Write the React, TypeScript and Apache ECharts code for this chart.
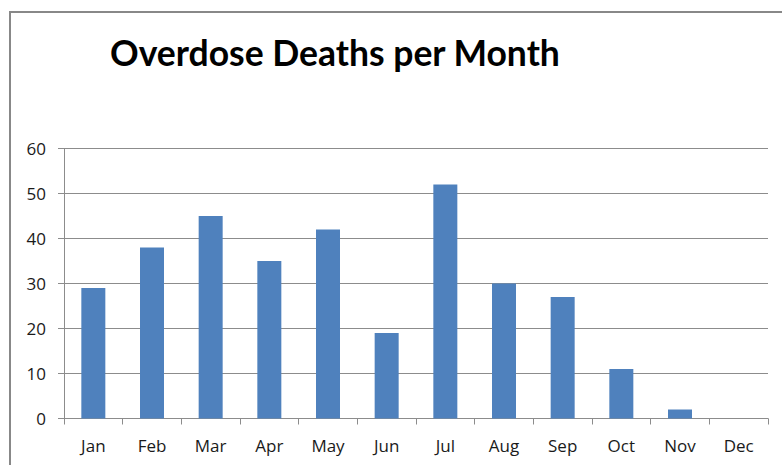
import React, { useEffect, useRef } from "react";
import * as echarts from "echarts";

const categories = ["Jan", "Feb", "Mar", "Apr", "May", "Jun", "Jul", "Aug", "Sep", "Oct", "Nov", "Dec"];
const deaths = [29, 38, 45, 35, 42, 19, 52, 30, 27, 11, 2, 0];
const titleText = "Overdose Deaths per Month";

export default function App() {
  const ref = useRef<HTMLDivElement>(null);
  useEffect(() => {
    document.body.style.margin = "0";
    const chart = echarts.init(ref.current!, null, { renderer: "svg" });
    const font = "'Open Sans', Lato, sans-serif";
    chart.setOption({
      animation: false,
      backgroundColor: "#ffffff",
      title: {
        text: titleText,
        left: 105,
        top: 29,
        textStyle: { fontFamily: "Lato, sans-serif", fontSize: 35.5, fontWeight: "bold", color: "#000000" },
      },
      graphic: [
        {
          type: "rect",
          shape: { x: 10, y: 12, width: 820, height: 520 },
          style: { fill: "none", stroke: "#888888", lineWidth: 2 },
          silent: true,
        },
      ],
      grid: { left: 64, right: 14, top: 148.5, bottom: 46.5 },
      xAxis: {
        type: "category",
        data: categories,
        boundaryGap: true,
        axisLine: { show: true, lineStyle: { color: "#8c8c8c", width: 1 } },
        axisTick: { show: true, interval: 0, length: 6, lineStyle: { color: "#8c8c8c" } },
        axisLabel: { interval: 0, margin: 18, fontFamily: font, fontSize: 17, color: "#1a1a1a" },
      },
      yAxis: {
        type: "value",
        min: 0,
        max: 60,
        interval: 10,
        axisLine: { show: true, lineStyle: { color: "#8c8c8c", width: 1 } },
        axisTick: { show: true, length: 6, lineStyle: { color: "#8c8c8c" } },
        splitLine: { show: true, lineStyle: { color: "#8c8c8c", width: 1 } },
        axisLabel: { margin: 18, fontFamily: font, fontSize: 17, color: "#1a1a1a" },
      },
      series: [
        {
          type: "bar",
          data: deaths,
          barWidth: 24,
          itemStyle: { color: "#4f81bd" },
        },
      ],
    });
    return () => chart.dispose();
  }, []);
  return <div ref={ref} style={{ width: 782, height: 465, position: "absolute", left: 0, top: 0 }} />;
}
